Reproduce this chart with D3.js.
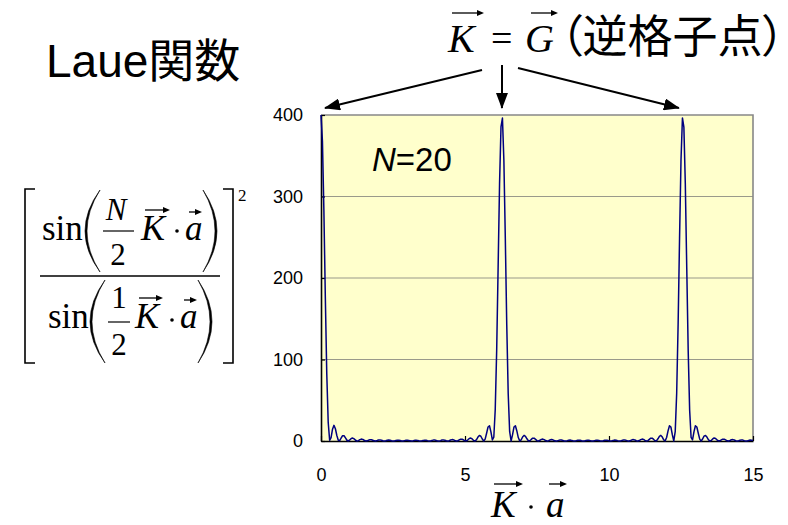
<!DOCTYPE html>
<html>
<head>
<meta charset="utf-8">
<script src="https://cdn.jsdelivr.net/npm/d3@7"></script>
<style>
  html, body { margin: 0; padding: 0; background: #ffffff; }
  svg { display: block; }
</style>
</head>
<body>
<svg id="chart" width="788" height="525"></svg>
<script>
// Sampling grid of K·a (0 … 15, step 0.05)
const kaStart = 0;
const kaStep = 0.05;
const kaDomain = [0, 15];
const intensityDomain = [0, 400];

// Laue function intensity for N = 20 at each sample point
const laueValues = [
  400, 367.8, 283.3, 177.0, 82.8, 23.0, 0.89, 4.06, 14.51, 19.20,
  15.02, 6.75, 0.89, 0.45, 3.67, 6.56, 6.46, 3.75, 0.90, 0.03,
  1.29, 3.08, 3.66, 2.59, 0.90, 0.01, 0.48, 1.65, 2.36, 1.99,
  0.91, 0.09, 0.16, 0.94, 1.64, 1.62, 0.92, 0.18, 0.03, 0.54,
  1.18, 1.36, 0.93, 0.29, 0.00, 0.29, 0.86, 1.17, 0.94, 0.40,
  0.02, 0.14, 0.63, 1.02, 0.96, 0.51, 0.08, 0.05, 0.45, 0.89,
  0.98, 0.63, 0.16, 0.01, 0.30, 0.78, 1.01, 0.77, 0.28, 0.00,
  0.19, 0.68, 1.04, 0.93, 0.45, 0.04, 0.10, 0.59, 1.08, 1.12,
  0.67, 0.14, 0.03, 0.49, 1.13, 1.37, 0.99, 0.32, 0.00, 0.39,
  1.20, 1.72, 1.46, 0.64, 0.03, 0.28, 1.29, 2.23, 2.24, 1.26,
  0.19, 0.16, 1.45, 3.09, 3.66, 2.54, 0.70, 0.04, 1.71, 4.82,
  6.86, 5.84, 2.43, 0.03, 2.30, 9.55, 17.22, 18.66, 11.19, 1.30,
  4.67, 38.6, 111.3, 212.9, 315.8, 385.5, 396.2, 344.1, 248.2, 142.4,
  58.2, 11.7, 0.03, 7.59, 17.09, 18.65, 12.35, 4.25, 0.14, 1.32,
  4.87, 6.90, 5.73, 2.67, 0.33, 0.27, 1.93, 3.47, 3.46, 2.02,
  0.46, 0.03, 0.86, 2.00, 2.36, 1.66, 0.56, 0.00, 0.38, 1.23,
  1.73, 1.43, 0.64, 0.05, 0.15, 0.77, 1.31, 1.27, 0.71, 0.13,
  0.04, 0.48, 1.02, 1.15, 0.77, 0.23, 0.00, 0.28, 0.79, 1.06,
  0.84, 0.34, 0.01, 0.15, 0.62, 0.98, 0.90, 0.46, 0.06, 0.06,
  0.47, 0.91, 0.98, 0.61, 0.15, 0.01, 0.34, 0.84, 1.06, 0.79,
  0.28, 0.00, 0.23, 0.78, 1.15, 1.01, 0.47, 0.04, 0.13, 0.71,
  1.28, 1.31, 0.76, 0.14, 0.05, 0.64, 1.44, 1.72, 1.22, 0.37,
  0.00, 0.57, 1.67, 2.36, 1.99, 0.85, 0.03, 0.47, 2.03, 3.46,
  3.46, 1.92, 0.26, 0.34, 2.70, 5.76, 6.90, 4.83, 1.29, 0.15,
  4.32, 12.42, 18.68, 17.03, 7.49, 0.02, 11.9, 58.7, 143.3, 249.1,
  344.8, 396.4, 385.2, 315.0, 211.9, 110.5, 38.1, 4.53, 1.36, 11.27,
  18.71, 17.17, 9.50, 2.26, 0.03, 2.46, 5.87, 6.85, 4.79, 1.69,
  0.04, 0.72, 2.56, 3.67, 3.08, 1.43, 0.16, 0.20, 1.27, 2.24,
  2.23, 1.28, 0.27, 0.03, 0.65, 1.47, 1.72, 1.19, 0.38, 0.00,
  0.32, 0.99, 1.37, 1.12, 0.48, 0.03, 0.14, 0.68, 1.12, 1.07,
  0.58
];

const yTickValues = [0, 100, 200, 300, 400];
const xTickValues = [0, 5, 10, 15];
const gridValues = [100, 200, 300];
// Reciprocal lattice points (multiples of 2π) pointed at by the annotation
const latticePoints = [0, 6.2832, 12.5664];

const titleText = "Laue関数";
const nValue = "20";
const latticeNote = "（逆格子点）";

const SANS = "'Liberation Sans', Arial, 'Noto Sans CJK JP', sans-serif";
const SERIF = "'Liberation Serif', 'Times New Roman', serif";
const CJK = "'Noto Sans CJK JP', 'Noto Sans CJK SC', sans-serif";

const svg = d3.select("#chart");

const x = d3.scaleLinear().domain(kaDomain).range([321, 753]);
const y = d3.scaleLinear().domain(intensityDomain).range([441, 115]);

// ---- plot area ----
svg.append("rect")
  .attr("x", x(kaDomain[0]))
  .attr("y", y(intensityDomain[1]))
  .attr("width", x(kaDomain[1]) - x(kaDomain[0]))
  .attr("height", y(intensityDomain[0]) - y(intensityDomain[1]))
  .attr("fill", "#FFFFCC");

svg.append("g").selectAll("line")
  .data(gridValues)
  .join("line")
  .attr("x1", x(kaDomain[0]))
  .attr("x2", x(kaDomain[1]))
  .attr("y1", d => y(d))
  .attr("y2", d => y(d))
  .attr("stroke", "#9a9a8a")
  .attr("stroke-width", 1.2);

svg.append("path")
  .attr("d", `M${x(kaDomain[0])},${y(intensityDomain[1])}H${x(kaDomain[1])}V${y(intensityDomain[0])}`)
  .attr("fill", "none")
  .attr("stroke", "#888888")
  .attr("stroke-width", 1.6);

// ---- axes ----
const yAxis = svg.append("g")
  .attr("transform", `translate(${x(kaDomain[0])},0)`)
  .call(d3.axisLeft(y).tickValues(yTickValues).tickSizeInner(-4).tickSizeOuter(0).tickPadding(18));

const xAxis = svg.append("g")
  .attr("transform", `translate(0,${y(intensityDomain[0])})`)
  .call(d3.axisBottom(x).tickValues(xTickValues).tickSizeInner(-5).tickSizeOuter(0).tickPadding(27));

[yAxis, xAxis].forEach(g => {
  g.select(".domain").attr("stroke", "#000").attr("stroke-width", 1.6);
  g.selectAll(".tick line").attr("stroke", "#000").attr("stroke-width", 1.2);
  g.selectAll(".tick text")
    .attr("fill", "#000")
    .style("font-family", SANS)
    .style("font-size", "18px");
});

// ---- Laue curve ----
const points = laueValues.map((v, i) => ({ ka: kaStart + i * kaStep, v }));
svg.append("path")
  .datum(points)
  .attr("d", d3.line().x(d => x(d.ka)).y(d => y(d.v)))
  .attr("fill", "none")
  .attr("stroke", "#000080")
  .attr("stroke-width", 1.5)
  .attr("stroke-linejoin", "round");

// ---- N=20 ----
const nText = svg.append("text")
  .attr("x", 372).attr("y", 171)
  .style("font-family", SANS)
  .style("font-size", "33px")
  .attr("fill", "#000");
nText.append("tspan").attr("font-style", "italic").text("N");
nText.append("tspan").text("=" + nValue);

// ---- title ----
svg.append("text")
  .attr("x", 46).attr("y", 77)
  .style("font-family", SANS)
  .style("font-size", "46px")
  .attr("fill", "#000")
  .text(titleText);

// ---- helpers ----
const defs = svg.append("defs");
defs.append("marker")
  .attr("id", "head")
  .attr("markerUnits", "userSpaceOnUse")
  .attr("viewBox", "0 0 16 12")
  .attr("refX", 15).attr("refY", 6)
  .attr("markerWidth", 16).attr("markerHeight", 12)
  .attr("orient", "auto")
  .append("path")
  .attr("d", "M0,0L16,6L0,12Z")
  .attr("fill", "#000");

// vector arrow over a symbol
function vecArrow(x1, x2, yy) {
  svg.append("line")
    .attr("x1", x1).attr("x2", x2 - 3)
    .attr("y1", yy).attr("y2", yy)
    .attr("stroke", "#000").attr("stroke-width", 1.3);
  svg.append("path")
    .attr("d", `M${x2 - 7},${yy - 3}L${x2},${yy}L${x2 - 7},${yy + 3}Z`)
    .attr("fill", "#000");
}

function symbol(str, xx, yy, size, italic, anchor) {
  return svg.append("text")
    .attr("x", xx).attr("y", yy)
    .attr("text-anchor", anchor || "start")
    .style("font-family", SERIF)
    .style("font-size", size + "px")
    .style("font-style", italic ? "italic" : "normal")
    .attr("fill", "#000")
    .text(str);
}

// tall parenthesis: side = "left" | "right"
function paren(xOuter, xInner, yTop, yBot, side) {
  const mid = (yTop + yBot) / 2;
  const t = 2.0;
  const c1 = 2 * xOuter - xInner;
  const c2 = side === "left" ? 2 * (xOuter + t) - xInner : 2 * (xOuter - t) - xInner;
  svg.append("path")
    .attr("d", `M${xInner},${yTop}Q${c1},${mid} ${xInner},${yBot}Q${c2},${mid} ${xInner},${yTop}Z`)
    .attr("fill", "#000")
    .attr("stroke", "#000")
    .attr("stroke-width", 0.6);
}

function dot(cx, cy) {
  svg.append("circle").attr("cx", cx).attr("cy", cy).attr("r", 1.8).attr("fill", "#000");
}

// ---- K = G (reciprocal lattice point) ----
symbol("K", 448, 52, 40, true);
symbol("=", 491, 51, 38, false);
symbol("G", 525, 52, 40, true);
vecArrow(452, 484, 13);
vecArrow(531, 558, 13);
svg.append("text")
  .attr("x", 560).attr("y", 53)
  .style("font-family", CJK)
  .style("font-size", "45px")
  .style("font-feature-settings", "'palt' 1")
  .attr("fill", "#000")
  .text(latticeNote);

// arrows from the note to each lattice point peak
const arrowStarts = [[482, 70], [502, 65], [518, 68]];
const arrowTipY = 108;
svg.append("g").selectAll("line")
  .data(latticePoints)
  .join("line")
  .attr("x1", (d, i) => arrowStarts[i][0])
  .attr("y1", (d, i) => arrowStarts[i][1])
  .attr("x2", (d, i) => i === 0 ? x(d) + 4 : (i === 2 ? x(d) - 4 : x(d)))
  .attr("y2", arrowTipY)
  .attr("stroke", "#000")
  .attr("stroke-width", 2)
  .attr("marker-end", "url(#head)");

// ---- x axis title: K · a ----
symbol("K", 491, 517, 37, true);
dot(531, 507);
symbol("a", 546, 517, 37, true);
vecArrow(494, 523, 484);
vecArrow(549, 567, 484);

// ---- formula ----
// brackets
svg.append("path")
  .attr("d", "M35,189H25V363H35M223,189H233V363H223")
  .attr("fill", "none").attr("stroke", "#000").attr("stroke-width", 1.6);
symbol("2", 238, 201, 17, false);
// main fraction bar
svg.append("line").attr("x1", 40).attr("x2", 220).attr("y1", 276).attr("y2", 276)
  .attr("stroke", "#000").attr("stroke-width", 1.3);

// numerator: sin( N/2 K·a )
symbol("sin", 42, 240, 35, false);
paren(85, 100, 190, 272, "left");
symbol("N", 116, 220, 31, true, "middle");
svg.append("line").attr("x1", 103).attr("x2", 134).attr("y1", 231).attr("y2", 231)
  .attr("stroke", "#000").attr("stroke-width", 1.2);
symbol("2", 118, 265, 31, false, "middle");
symbol("K", 141, 240, 36, true);
vecArrow(145, 170, 210);
dot(177, 231);
symbol("a", 185, 240, 35, true);
vecArrow(189, 202, 212);
paren(217, 203, 190, 272, "right");

// denominator: sin( 1/2 K·a )
symbol("sin", 48, 328, 35, false);
paren(90, 105, 280, 363, "left");
symbol("1", 119, 308, 31, false, "middle");
svg.append("line").attr("x1", 108).attr("x2", 130).attr("y1", 322).attr("y2", 322)
  .attr("stroke", "#000").attr("stroke-width", 1.2);
symbol("2", 119, 355, 31, false, "middle");
symbol("K", 135, 328, 36, true);
vecArrow(139, 163, 298);
dot(172, 320);
symbol("a", 180, 328, 35, true);
vecArrow(184, 197, 300);
paren(212, 198, 280, 363, "right");
</script>
</body>
</html>
